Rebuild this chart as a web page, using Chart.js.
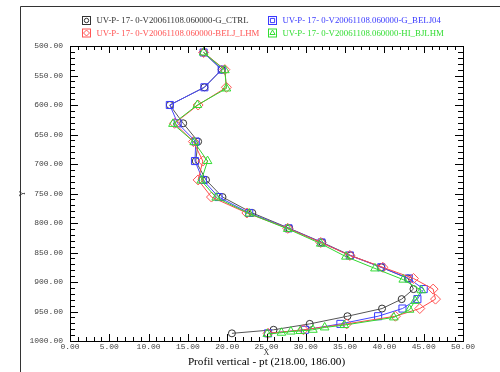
<!DOCTYPE html>
<html>
<head>
<meta charset="utf-8">
<script src="https://cdn.jsdelivr.net/npm/chart.js@4/dist/chart.umd.min.js"></script>
<style>
  html,body{margin:0;padding:0;background:#fff;}
  #wrap{width:500px;height:372px;position:relative;}
</style>
</head>
<body>
<div id="wrap"><canvas id="prof" width="500" height="372"></canvas></div>
<script>
// pressure levels (hPa) and values
const levels = [511,540,570,600,631,662,695,727,756,783,809,833,855,875,894,912,929,945,958,971,981,987];
const ctrl   = [17.0,19.3,17.1,12.7,14.4,16.3,16.0,17.3,19.4,23.2,27.9,32.1,35.7,39.6,43.0,43.7,42.2,39.7,35.3,30.5,25.9,20.6];
const belj04 = [17.0,19.3,17.1,12.7,13.7,16.0,15.9,16.9,18.9,22.8,27.8,32.0,35.6,39.6,43.1,45.0,44.2,42.3,39.2,34.4,29.9,25.2];
const beljLhm= [17.0,19.7,19.9,16.3,13.3,15.7,16.9,16.3,18.0,22.5,27.7,31.9,35.6,39.8,43.7,46.2,46.5,44.5,41.4,35.2,29.7,25.2];
// the HI run sits on its own levels
const hiLevels = [511,541,572,600,632,663,695,728,757,784,810,835,857,877,896,914,932,947,960,973,977,981,983,984,986,988];
const hiBjlhm  = [17.0,19.7,19.9,16.2,13.1,15.8,17.5,16.7,18.6,22.8,27.7,31.9,35.1,38.8,42.4,44.7,43.9,43.2,41.2,34.9,32.4,30.9,29.3,28.1,26.9,25.1];

const xTicks = [0,5,10,15,20,25,30,35,40,45,50];
const yTicks = [500,550,600,650,700,750,800,850,900,950,1000];

const pts = (ys,xs)=>ys.map((p,i)=>({x:xs[i],y:p}));

const SERIES = [
  {label:'UV-P- 17- 0-V20061108.060000-G_CTRL',     data:pts(levels,ctrl),      color:'#555555', mark:'#333333', style:'circle',   r:3.5, order:3},
  {label:'UV-P- 17- 0-V20061108.060000-G_BELJ04',   data:pts(levels,belj04),    color:'#4646ff', mark:'#3a3aff', style:'rect',     r:5,   order:2},
  {label:'UV-P- 17- 0-V20061108.060000-BELJ_LHM',   data:pts(levels,beljLhm),   color:'#ff4a4a', mark:'#ff5555', style:'rectRot',  r:5,   order:1},
  {label:'UV-P- 17- 0-V20061108.060000-HI_BJLHM',   data:pts(hiLevels,hiBjlhm), color:'#2fd82f', mark:'#33dd33', style:'triangle', r:5,   order:0}
];

const TICKFONT = {family:'Liberation Mono', size:8};

// frame, inward tick marks, legend and titles
const decor = {
  id:'decor',
  afterDraw(chart){
    const ctx = chart.ctx;
    const a = chart.chartArea;
    const xs = chart.scales.x, ys = chart.scales.y;
    ctx.save();
    // outer page frame
    ctx.strokeStyle = '#333';
    ctx.lineWidth = 1;
    ctx.beginPath();
    ctx.moveTo(20.5,372); ctx.lineTo(20.5,6.5); ctx.lineTo(500,6.5);
    ctx.stroke();
    // plot box
    ctx.strokeStyle = '#000';
    ctx.strokeRect(Math.round(a.left)+0.5, Math.round(a.top)+0.5, Math.round(a.right-a.left), Math.round(a.bottom-a.top));
    ctx.beginPath();
    for(let v=0; v<=50; v++){
      const px = Math.round(xs.getPixelForValue(v))+0.5;
      const len = v%5===0 ? 7 : 4;
      ctx.moveTo(px, a.bottom); ctx.lineTo(px, a.bottom-len);
      ctx.moveTo(px, a.top); ctx.lineTo(px, a.top+len);
    }
    for(let p=500; p<=1000; p+=10){
      const py = Math.round(ys.getPixelForValue(p))+0.5;
      const len = p%50===0 ? 8 : 5;
      ctx.moveTo(a.left, py); ctx.lineTo(a.left+len, py);
      ctx.moveTo(a.right, py); ctx.lineTo(a.right-len, py);
    }
    ctx.stroke();

    // legend, two columns
    const colX = [86.5, 272.5];
    const rowY = [20.5, 33];
    ctx.font = '8.8px "Liberation Serif"';
    ctx.textBaseline = 'middle';
    ctx.textAlign = 'left';
    chart.data.datasets.forEach((ds,i)=>{
      const s = SERIES[i];
      const cx = colX[[0,1,0,1][i]], cy = rowY[[0,0,1,1][i]];
      ctx.strokeStyle = s.mark;
      ctx.lineWidth = 1;
      ctx.strokeRect(cx-4, cy-4, 8, 8);
      ctx.fillStyle = 'rgba(0,0,0,0)';
      Chart.helpers.drawPoint(ctx, {pointStyle:s.style, radius:s.style==='circle'?2.2:3, rotation:0, borderWidth:1}, cx, cy);
      ctx.fillStyle = s.mark;
      ctx.fillText(ds.label, cx+10, cy+0.5);
    });

    // axis titles
    ctx.fillStyle = '#333';
    ctx.font = '8px "Liberation Serif"';
    ctx.textAlign = 'center';
    ctx.fillText('X', (a.left+a.right)/2, 353);
    ctx.save();
    ctx.translate(23, (a.top+a.bottom)/2);
    ctx.rotate(-Math.PI/2);
    ctx.fillText('Y', 0, 0);
    ctx.restore();
    ctx.fillStyle = '#000';
    ctx.font = '11.2px "Liberation Serif"';
    ctx.fillText('Profil vertical - pt (218.00, 186.00)', (a.left+a.right)/2, 362);
    ctx.restore();
  }
};

new Chart(document.getElementById('prof'), {
  type:'scatter',
  data:{
    datasets: SERIES.map(s=>({
      label:s.label,
      data:s.data,
      showLine:true,
      borderColor:s.color,
      borderWidth:1,
      backgroundColor:'rgba(0,0,0,0)',
      pointStyle:s.style,
      pointRadius:s.r,
      pointBorderColor:s.mark,
      pointBackgroundColor:'rgba(0,0,0,0)',
      pointBorderWidth:1,
      tension:0,
      order:s.order
    }))
  },
  options:{
    responsive:false,
    animation:false,
    layout:{padding:{left:0,right:37,top:46,bottom:0}},
    plugins:{legend:{display:false}, tooltip:{enabled:false}},
    scales:{
      x:{
        type:'linear', min:0, max:50,
        grid:{display:false, drawTicks:false},
        border:{display:false},
        afterBuildTicks:(sc)=>{sc.ticks = xTicks.map(v=>({value:v}));},
        afterFit:(sc)=>{sc.height = 31;},
        ticks:{autoSkip:false, maxRotation:0, padding:1, color:'#444', font:TICKFONT,
               callback:(v)=>Number(v).toFixed(2)}
      },
      y:{
        type:'linear', min:500, max:1000, reverse:true,
        grid:{display:false, drawTicks:false},
        border:{display:false},
        afterBuildTicks:(sc)=>{sc.ticks = yTicks.map(v=>({value:v}));},
        afterFit:(sc)=>{sc.width = 70;},
        ticks:{autoSkip:false, padding:7, color:'#444', font:TICKFONT,
               callback:(v)=>Number(v).toFixed(2)}
      }
    }
  },
  plugins:[decor]
});
</script>
</body>
</html>
